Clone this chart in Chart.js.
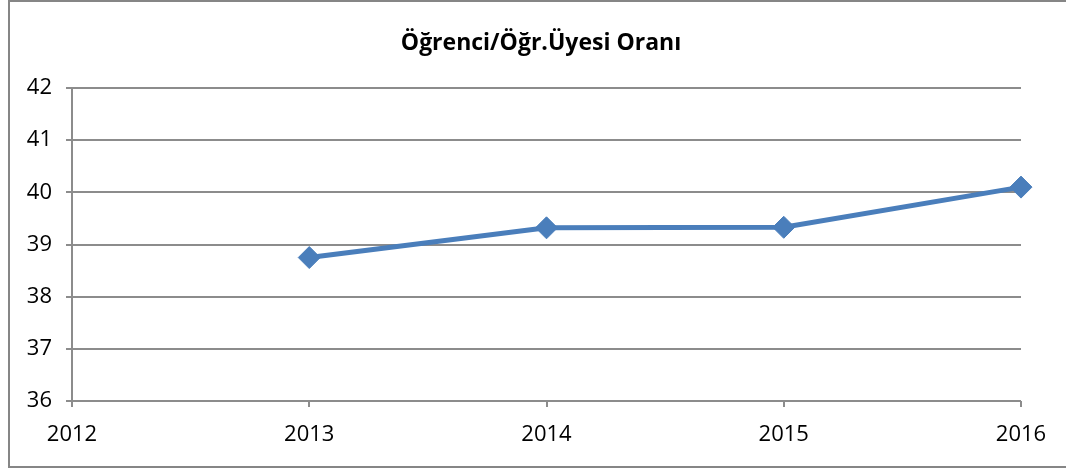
<!DOCTYPE html>
<html>
<head>
<meta charset="utf-8">
<script src="https://cdn.jsdelivr.net/npm/chart.js@4/dist/chart.umd.min.js"></script>
<style>
  html, body { margin: 0; padding: 0; background: #fff; overflow: hidden; }
  #wrap { position: relative; width: 1066px; height: 471px; }
</style>
</head>
<body>
<div id="wrap"><canvas id="chart" width="1066" height="471"></canvas></div>
<script>
const years = [2013, 2014, 2015, 2016];
const ratios = [38.75, 39.32, 39.33, 40.1];
const titleText = "Öğrenci/Öğr.Üyesi Oranı";

const gridColor = "#8c8c8c";
const lineColor = "#4a7ebb";

// frame + title drawn by hand so the title sits centred on the frame
const frame = {
  id: "frame",
  beforeDraw: (chart) => {
    const ctx = chart.ctx;
    ctx.save();
    ctx.strokeStyle = "#868686";
    ctx.lineWidth = 2;
    ctx.strokeRect(9, 1, 1070, 466);
    ctx.fillStyle = "#000";
    ctx.font = "bold 23px 'Open Sans'";
    ctx.textAlign = "center";
    ctx.textBaseline = "middle";
    ctx.fillText(titleText, 541, 43);
    ctx.restore();
  },
};

const data = {
  datasets: [
    {
      data: years.map((y, i) => ({ x: y, y: ratios[i] })),
      borderColor: lineColor,
      backgroundColor: lineColor,
      borderWidth: 5,
      pointStyle: "rectRot",
      pointRadius: 11,
      pointBorderWidth: 1,
      pointBackgroundColor: lineColor,
      pointBorderColor: lineColor,
      tension: 0,
      clip: false,
    },
  ],
};

const options = {
  responsive: false,
  animation: false,
  layout: {
    padding: { left: 0, right: 45, top: 88, bottom: 0 },
  },
  plugins: {
    legend: { display: false },
    tooltip: { enabled: false },
    title: { display: false },
  },
  scales: {
    x: {
      type: "linear",
      min: 2012,
      max: 2016,
      afterFit: (scale) => { scale.height = 70; },
      ticks: {
        stepSize: 1,
        color: "#000",
        font: { size: 22, family: "'Open Sans'" },
        padding: 15,
        callback: (v) => String(v),
      },
      grid: {
        drawOnChartArea: false,
        drawTicks: true,
        tickLength: 6,
        color: gridColor,
        lineWidth: 2,
      },
      border: { display: false },
    },
    y: {
      min: 36,
      max: 42,
      afterFit: (scale) => { scale.width = 72; },
      ticks: {
        stepSize: 1,
        color: "#000",
        font: { size: 22, family: "'Open Sans'" },
        padding: 14,
      },
      grid: {
        color: gridColor,
        lineWidth: 2,
        tickLength: 6,
      },
      border: { display: true, color: gridColor, width: 2 },
    },
  },
};

new Chart("chart", {
  type: "line",
  data,
  options: options,
  plugins: [frame],
});
</script>
</body>
</html>
